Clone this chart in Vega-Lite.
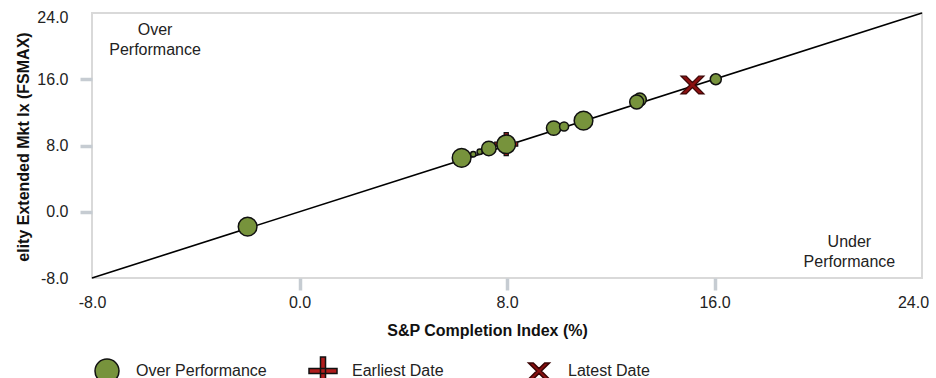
{
  "$schema": "https://vega.github.io/schema/vega-lite/v6.json",
  "width": 830,
  "height": 265,
  "autosize": {"type": "none"},
  "padding": {"left": 92, "top": 13, "right": 14, "bottom": 100},
  "background": "white",
  "config": {
    "font": "Liberation Sans",
    "view": {"stroke": "#d9d9d9", "strokeWidth": 2},
    "axis": {
      "domain": false,
      "grid": false,
      "labelFont": "Liberation Sans",
      "labelFontSize": 16,
      "labelColor": "#222222",
      "titleFont": "Liberation Sans",
      "titleFontSize": 16,
      "titleFontWeight": "bold",
      "titleColor": "#111111",
      "tickSize": 12,
      "tickWidth": 3.5
    },
    "legend": {
      "orient": "bottom",
      "direction": "horizontal",
      "columns": 3,
      "gridAlign": "all",
      "columnPadding": 39,
      "offset": 18,
      "symbolSize": 784,
      "symbolStrokeWidth": 1.5,
      "labelOffset": 14,
      "labelFont": "Liberation Sans",
      "labelFontSize": 16,
      "labelColor": "#222222",
      "labelLimit": 400,
      "title": null
    }
  },
  "datasets": {
    "funds": [
      {"x": 7.97, "y": 8.17, "series": "Earliest Date", "weight": 0},
      {"x": -2.0, "y": -1.8, "series": "Over Performance", "weight": 95},
      {"x": 6.25, "y": 6.5, "series": "Over Performance", "weight": 95},
      {"x": 6.7, "y": 6.95, "series": "Over Performance", "weight": 8},
      {"x": 6.95, "y": 7.25, "series": "Over Performance", "weight": 8},
      {"x": 7.3, "y": 7.65, "series": "Over Performance", "weight": 57},
      {"x": 7.97, "y": 8.15, "series": "Over Performance", "weight": 95},
      {"x": 9.8, "y": 10.1, "series": "Over Performance", "weight": 57},
      {"x": 10.2, "y": 10.3, "series": "Over Performance", "weight": 22},
      {"x": 10.95, "y": 11.0, "series": "Over Performance", "weight": 95},
      {"x": 13.12, "y": 13.55, "series": "Over Performance", "weight": 46},
      {"x": 13.0, "y": 13.25, "series": "Over Performance", "weight": 53},
      {"x": 16.05, "y": 16.0, "series": "Over Performance", "weight": 33},
      {"x": 15.15, "y": 15.3, "series": "Latest Date", "weight": 0}
    ],
    "diagonal": [
      {"x": -8, "y": -8},
      {"x": 24, "y": 24}
    ],
    "notes": [
      {"x": -5.57, "y": 21.34, "label": "Over\nPerformance"},
      {"x": 21.2, "y": -4.22, "label": "Under\nPerformance"}
    ]
  },
  "encoding": {
    "x": {
      "field": "x",
      "type": "quantitative",
      "scale": {"domain": [-8, 24], "nice": false, "zero": false},
      "axis": {
        "title": "S&P Completion Index (%)",
        "values": [-8, 0, 8, 16, 24],
        "format": ".1f",
        "labelExpr": "replace(datum.label, '−', '-')",
        "labelFlush": false,
        "labelPadding": 4,
        "labelOffset": {"condition": {"test": "datum.value == 24", "value": -9}, "value": 0},
        "tickColor": {"condition": {"test": "datum.value == -8 || datum.value == 24", "value": "transparent"}, "value": "#c6ccd2"},
        "titleX": 395,
        "titleY": 57,
        "titleBaseline": "alphabetic",
        "titleAlign": "center"
      }
    },
    "y": {
      "field": "y",
      "type": "quantitative",
      "scale": {"domain": [-8, 24], "nice": false, "zero": false},
      "axis": {
        "title": "elity Extended Mkt Ix (FSMAX)",
        "values": [-8, 0, 8, 16, 24],
        "format": ".1f",
        "labelExpr": "replace(datum.label, '−', '-')",
        "labelFlush": false,
        "labelPadding": 12,
        "labelOffset": {"condition": {"test": "datum.value == 24", "value": 4}, "value": 0},
        "tickColor": {"condition": {"test": "datum.value == -8 || datum.value == 24", "value": "transparent"}, "value": "#c6ccd2"},
        "titleX": -64,
        "titleY": 133.5,
        "titleAngle": 270,
        "titleBaseline": "alphabetic",
        "titleAlign": "center"
      }
    },
    "shape": {
      "field": "series",
      "type": "nominal",
      "scale": {
        "domain": ["Over Performance", "Earliest Date", "Latest Date"],
        "range": [
          "M-1,-1M1,1M0.857,0A0.857,0.857,0,1,1,-0.857,0A0.857,0.857,0,1,1,0.857,0Z",
          "M-1,-0.18H1V0.18H-1Z M-0.18,-1H0.18V1H-0.18Z",
          "M-1,-1M1,1M-0.75,-0.58L-0.41,-0.58L0,-0.17L0.41,-0.58L0.75,-0.58L0.17,0L0.75,0.58L0.41,0.58L0,0.17L-0.41,0.58L-0.75,0.58L-0.17,0Z"
        ]
      }
    },
    "fill": {
      "field": "series",
      "type": "nominal",
      "scale": {
        "domain": ["Over Performance", "Earliest Date", "Latest Date"],
        "range": ["#77933c", "#b01c1c", "#8b1010"]
      }
    },
    "stroke": {
      "field": "series",
      "type": "nominal",
      "scale": {
        "domain": ["Over Performance", "Earliest Date", "Latest Date"],
        "range": ["#111111", "#111111", "#3a0505"]
      }
    }
  },
  "layer": [
    {
      "data": {"name": "diagonal"},
      "mark": {"type": "line", "color": "#000000", "strokeWidth": 1.6},
      "encoding": {"shape": null, "fill": null, "stroke": null}
    },
    {
      "data": {"name": "funds"},
      "transform": [{"filter": "datum.series == 'Earliest Date'"}],
      "mark": {"type": "point", "filled": true, "strokeWidth": 1.2, "opacity": 1, "size": 529}
    },
    {
      "data": {"name": "funds"},
      "transform": [{"filter": "datum.series == 'Over Performance'"}],
      "mark": {"type": "point", "filled": true, "strokeWidth": 1.5, "opacity": 1},
      "encoding": {
        "size": {"field": "weight", "type": "quantitative", "scale": {"domain": [0, 100], "range": [0, 500]}, "legend": null}
      }
    },
    {
      "data": {"name": "funds"},
      "transform": [{"filter": "datum.series == 'Latest Date'"}],
      "mark": {"type": "point", "filled": true, "strokeWidth": 1.2, "opacity": 1, "size": 940}
    },
    {
      "data": {"name": "notes"},
      "mark": {"type": "text", "align": "center", "baseline": "alphabetic", "fontSize": 16, "lineHeight": 20, "lineBreak": "\n", "color": "#222222", "font": "Liberation Sans"},
      "encoding": {
        "text": {"field": "label", "type": "nominal"},
        "shape": null, "fill": null, "stroke": null
      }
    }
  ]
}
